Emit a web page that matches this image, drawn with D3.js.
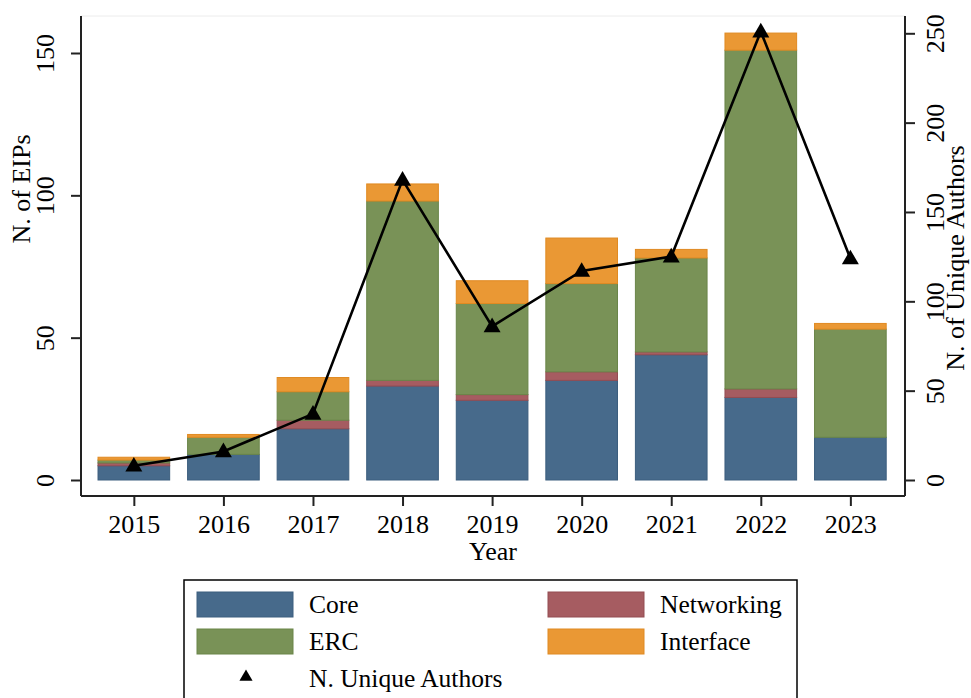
<!DOCTYPE html>
<html>
<head>
<meta charset="utf-8">
<script src="https://cdn.jsdelivr.net/npm/d3@7"></script>
<style>
  html, body { margin: 0; padding: 0; background: #fff; }
  svg { display: block; }
  text { font-family: "Liberation Serif", "Times New Roman", serif; fill: #000; }
</style>
</head>
<body>
<svg id="chart" width="971" height="698"></svg>
<script>
// ---- data ----
const years = [2015, 2016, 2017, 2018, 2019, 2020, 2021, 2022, 2023];
const core = [5, 9, 18, 33, 28, 35, 44, 29, 15];
const networking = [1, 0, 3, 2, 2, 3, 1, 3, 0];
const erc = [1, 6, 10, 63, 32, 31, 33, 119, 38];
const iface = [1, 1, 5, 6, 8, 16, 3, 6, 2];
const authors = [8, 16, 37, 168, 86, 117, 125, 251, 124];
const leftTicks = [0, 50, 100, 150];
const rightTicks = [0, 50, 100, 150, 200, 250];
const seriesNames = ["Core", "Networking", "ERC", "Interface"];

const colors = {
  Core: { fill: "#476a8b", stroke: "#3c5e7e" },
  Networking: { fill: "#a65c61", stroke: "#934c52" },
  ERC: { fill: "#799257", stroke: "#6a8549" },
  Interface: { fill: "#ea9834", stroke: "#e08a22" }
};

const svg = d3.select("#chart");
const L = 81, R = 905, T = 16, B = 496;

const x = d3.scaleLinear().domain([2014.41, 2023.61]).range([L, R]);
const yL = d3.scaleLinear().domain([0, 150]).range([480, 53]);
const yR = d3.scaleLinear().domain([0, 250]).range([480, 33.3]);

// faint plot frame top
svg.append("line").attr("x1", L).attr("x2", R).attr("y1", T).attr("y2", T)
  .attr("stroke", "#ececec").attr("stroke-width", 1);

// stacked bars
const table = years.map((yr, i) => ({
  year: yr, Core: core[i], Networking: networking[i], ERC: erc[i], Interface: iface[i]
}));
const stack = d3.stack().keys(seriesNames)(table);
const bw = x(2015.4) - x(2014.6);

stack.forEach(layer => {
  const key = layer.key;
  svg.append("g").selectAll("rect")
    .data(layer.filter(d => d[1] - d[0] > 0))
    .join("rect")
    .attr("x", d => x(d.data.year) - bw / 2)
    .attr("width", bw)
    .attr("y", d => yL(d[1]))
    .attr("height", d => yL(d[0]) - yL(d[1]))
    .attr("fill", colors[key].fill)
    .attr("stroke", colors[key].stroke)
    .attr("stroke-width", 1);
});

// line + markers (right axis)
const line = d3.line().x((d, i) => x(years[i])).y(d => yR(d));
svg.append("path").datum(authors)
  .attr("d", line)
  .attr("fill", "none")
  .attr("stroke", "#000")
  .attr("stroke-width", 2.6)
  .attr("stroke-linejoin", "miter");

const tri = d3.symbol(d3.symbolTriangle, 125);
svg.append("g").selectAll("path")
  .data(authors)
  .join("path")
  .attr("d", tri)
  .attr("transform", (d, i) => `translate(${x(years[i])},${yR(d) + 1})`)
  .attr("fill", "#000");

// axes
const fs = 26;
const gL = svg.append("g").attr("transform", `translate(${L},0)`)
  .call(d3.axisLeft(yL).tickValues(leftTicks).tickSize(10).tickFormat(d3.format("d")));
gL.select(".domain").attr("d", `M0,${T}V${B}`).attr("stroke-width", 2);
gL.selectAll(".tick line").attr("stroke-width", 2);
gL.selectAll(".tick text")
  .attr("transform", "rotate(-90)")
  .attr("x", 0).attr("y", -27).attr("dy", 0)
  .attr("text-anchor", "middle")
  .style("font-size", fs + "px");

const gR = svg.append("g").attr("transform", `translate(${R},0)`)
  .call(d3.axisRight(yR).tickValues(rightTicks).tickSize(10).tickFormat(d3.format("d")));
gR.select(".domain").attr("d", `M0,${T}V${B}`).attr("stroke-width", 2);
gR.selectAll(".tick line").attr("stroke-width", 2);
gR.selectAll(".tick text")
  .attr("transform", "rotate(-90)")
  .attr("x", 0).attr("y", 39).attr("dy", 0)
  .attr("text-anchor", "middle")
  .style("font-size", fs + "px");

const gB = svg.append("g").attr("transform", `translate(0,${B})`)
  .call(d3.axisBottom(x).tickValues(years).tickSize(10).tickFormat(d3.format("d")));
gB.select(".domain").attr("d", `M${L},0H${R}`).attr("stroke-width", 2);
gB.selectAll(".tick line").attr("stroke-width", 2);
gB.selectAll(".tick text")
  .attr("y", 37).attr("dy", 0)
  .style("font-size", fs + "px");

svg.selectAll(".domain, .tick line").attr("stroke", "#222");
svg.selectAll(".tick text").attr("fill", "#000").style("font-family", '"Liberation Serif", serif');

// axis titles
svg.append("text").attr("x", (L + R) / 2).attr("y", 560)
  .attr("text-anchor", "middle").style("font-size", fs + "px").text("Year");
svg.append("text").attr("transform", "translate(30,189) rotate(-90)")
  .attr("text-anchor", "middle").style("font-size", fs + "px").text("N. of EIPs");
svg.append("text").attr("transform", "translate(964,258) rotate(-90)")
  .attr("text-anchor", "middle").style("font-size", fs + "px").text("N. of Unique Authors");

// legend
const lg = svg.append("g");
lg.append("rect").attr("x", 184).attr("y", 580).attr("width", 613).attr("height", 140)
  .attr("fill", "#fff").attr("stroke", "#000").attr("stroke-width", 1.5);

const legendItems = [
  { name: "Core", sx: 197, ty: 604 },
  { name: "Networking", sx: 548, ty: 604 },
  { name: "ERC", sx: 197, ty: 641 },
  { name: "Interface", sx: 548, ty: 641 }
];
legendItems.forEach(it => {
  lg.append("rect").attr("x", it.sx).attr("y", it.ty - 12).attr("width", 96).attr("height", 25)
    .attr("fill", colors[it.name].fill).attr("stroke", colors[it.name].stroke).attr("stroke-width", 1);
  lg.append("text").attr("x", it.sx + 112).attr("y", it.ty + 9)
    .style("font-size", "25.5px").text(it.name);
});
lg.append("path").attr("d", d3.symbol(d3.symbolTriangle, 75))
  .attr("transform", "translate(246,677)").attr("fill", "#000");
lg.append("text").attr("x", 309).attr("y", 687).style("font-size", "25.5px").text("N. Unique Authors");
</script>
</body>
</html>
